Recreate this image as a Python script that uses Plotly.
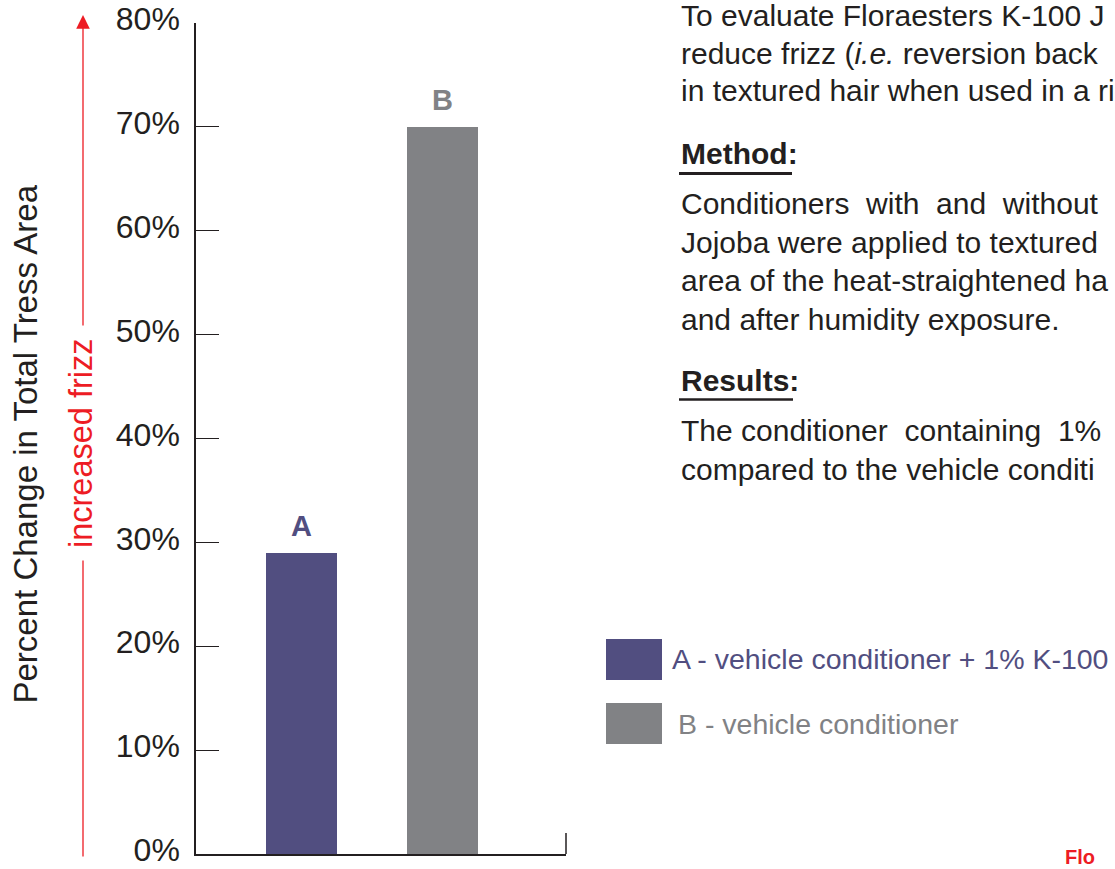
import plotly.graph_objects as go

# ---------------- data ----------------
categories = ["A", "B"]
values = [29, 70]
bar_labels = ["A", "B"]
bar_colors = ["#514e80", "#818285"]
legend_labels = ["A - vehicle conditioner + 1% K-100", "B - vehicle conditioner"]
y_ticks = [0, 10, 20, 30, 40, 50, 60, 70, 80]
y_tick_labels = ["0%", "10%", "20%", "30%", "40%", "50%", "60%", "70%", "80%"]
y_title = "Percent Change in Total Tress Area"
arrow_label = "increased frizz"
intro_lines = [
    "To evaluate Floraesters K-100 J",
    "reduce frizz (<i>i.e.</i> reversion back",
    "in textured hair when used in a ri",
]
method_lines = [
    "Conditioners\u00a0 with\u00a0 and\u00a0 without",
    "Jojoba were applied to textured",
    "area of the heat-straightened ha",
    "and after humidity exposure.",
]
results_lines = [
    "The conditioner\u00a0 containing\u00a0 1%",
    "compared to the vehicle conditi",
]
logo_text = "Flo"

# ---------------- geometry helpers ----------------
W, H = 1115, 869
L, R, T, B = 196, 566, 23, 854
def px(x):
    return (x - L) / (R - L)
def py(y):
    return (B - y) / (B - T)

FONT = "Arial, 'Liberation Sans', sans-serif"
DARK = "#231f20"
RED = "#ed1c24"

fig = go.Figure()
fig.add_trace(go.Bar(
    x=categories, y=values, marker=dict(color=bar_colors, line=dict(width=0)),
    width=0.5035, hoverinfo="skip", showlegend=False,
))

ann = []
# bar labels
for c, v, lab, col in zip(categories, values, bar_labels, bar_colors):
    ann.append(dict(x=c, y=v, xref="x", yref="y", text=f"<b>{lab}</b>", showarrow=False,
                    yanchor="middle", yshift=27, font=dict(family=FONT, size=29, color=col)))

# y title
ann.append(dict(x=px(25.5), y=py(444), xref="paper", yref="paper", text=y_title,
                textangle=-90, showarrow=False, xanchor="center", yanchor="middle",
                font=dict(family=FONT, size=33, color=DARK)))
# red arrow
ann.append(dict(x=px(83), y=py(15), xref="paper", yref="paper", text="", showarrow=True,
                ax=0, ay=858 - 15, axref="pixel", ayref="pixel", arrowhead=2,
                arrowsize=2.1, arrowwidth=1.3, arrowcolor=RED, standoff=0))
ann.append(dict(x=px(81), y=py(443), xref="paper", yref="paper", text=arrow_label,
                textangle=-90, showarrow=False, xanchor="center", yanchor="middle",
                bgcolor="white", borderpad=12,
                font=dict(family=FONT, size=32.5, color=RED)))

# right-hand text
TX = 679
def text_line(txt, yc, bold=False, size=30):
    t = f"<b>{txt}</b>" if bold else txt
    ann.append(dict(x=px(TX), y=py(yc), xref="paper", yref="paper", text=t, showarrow=False,
                    xanchor="left", yanchor="middle", align="left",
                    font=dict(family=FONT, size=size, color=DARK)))

for txt, yc in zip(intro_lines, [15.6, 53.2, 90.6]):
    text_line(txt, yc)
text_line("Method:", 153.5, bold=True, size=30)
for txt, yc in zip(method_lines, [204, 242.3, 280.7, 319]):
    text_line(txt, yc)
text_line("Results:", 380, bold=True, size=30)
for txt, yc in zip(results_lines, [430.7, 469]):
    text_line(txt, yc)

# legend
leg_y = [659, 724]
leg_x = [670, 676]
for lab, col, yc, xs in zip(legend_labels, bar_colors, leg_y, leg_x):
    ann.append(dict(x=px(xs), y=py(yc), xref="paper", yref="paper", text=lab, showarrow=False,
                    xanchor="left", yanchor="middle",
                    font=dict(family=FONT, size=28.5, color=col)))

# logo fragment bottom-right
ann.append(dict(x=px(1064), y=py(869), xref="paper", yref="paper", text=f"<b>{logo_text}</b>",
                showarrow=False, xanchor="left", yanchor="bottom", borderpad=0,
                font=dict(family=FONT, size=20, color=RED)))

shapes = []
# underlines
shapes.append(dict(type="line", xref="paper", yref="paper", x0=px(679), x1=px(792),
                   y0=py(173.5), y1=py(173.5), line=dict(color=DARK, width=3)))
shapes.append(dict(type="line", xref="paper", yref="paper", x0=px(679), x1=px(793),
                   y0=py(399.5), y1=py(399.5), line=dict(color=DARK, width=2.5)))
# legend swatches
for col, (y0, y1) in zip(bar_colors, [(639, 680), (703, 744)]):
    shapes.append(dict(type="rect", xref="paper", yref="paper", x0=px(606), x1=px(662),
                       y0=py(y1), y1=py(y0), fillcolor=col, line=dict(width=0)))
# right end tick of x axis
shapes.append(dict(type="line", xref="paper", yref="paper", x0=1, x1=1,
                   y0=0, y1=py(833), line=dict(color=DARK, width=1.5)))

fig.update_layout(
    width=W, height=H,
    margin=dict(l=L, r=W - R, t=T, b=H - B, pad=0, autoexpand=False),
    plot_bgcolor="white", paper_bgcolor="white",
    showlegend=False, bargap=0,
    annotations=ann, shapes=shapes,
    font=dict(family=FONT, color=DARK),
)
fig.update_xaxes(
    range=[(L - 301.5) / 141, (R - 301.5) / 141], automargin=False,
    showline=True, linecolor=DARK, linewidth=1.5, showticklabels=False,
    ticks="", showgrid=False, zeroline=False,
)
fig.update_yaxes(
    range=[0, 80], tickmode="array", tickvals=y_ticks, ticktext=y_tick_labels,
    automargin=False,
    ticks="inside", ticklen=23, tickwidth=1.4, tickcolor=DARK,
    showline=True, linecolor=DARK, linewidth=1.5, showgrid=False, zeroline=False,
    tickfont=dict(family=FONT, size=32, color=DARK),
    ticklabelshift=-4, ticklabelstandoff=8, ticklabeloverflow="allow",
)

fig.write_html("out.html", config={"displayModeBar": False},
               post_script="document.body.style.margin='0';")
